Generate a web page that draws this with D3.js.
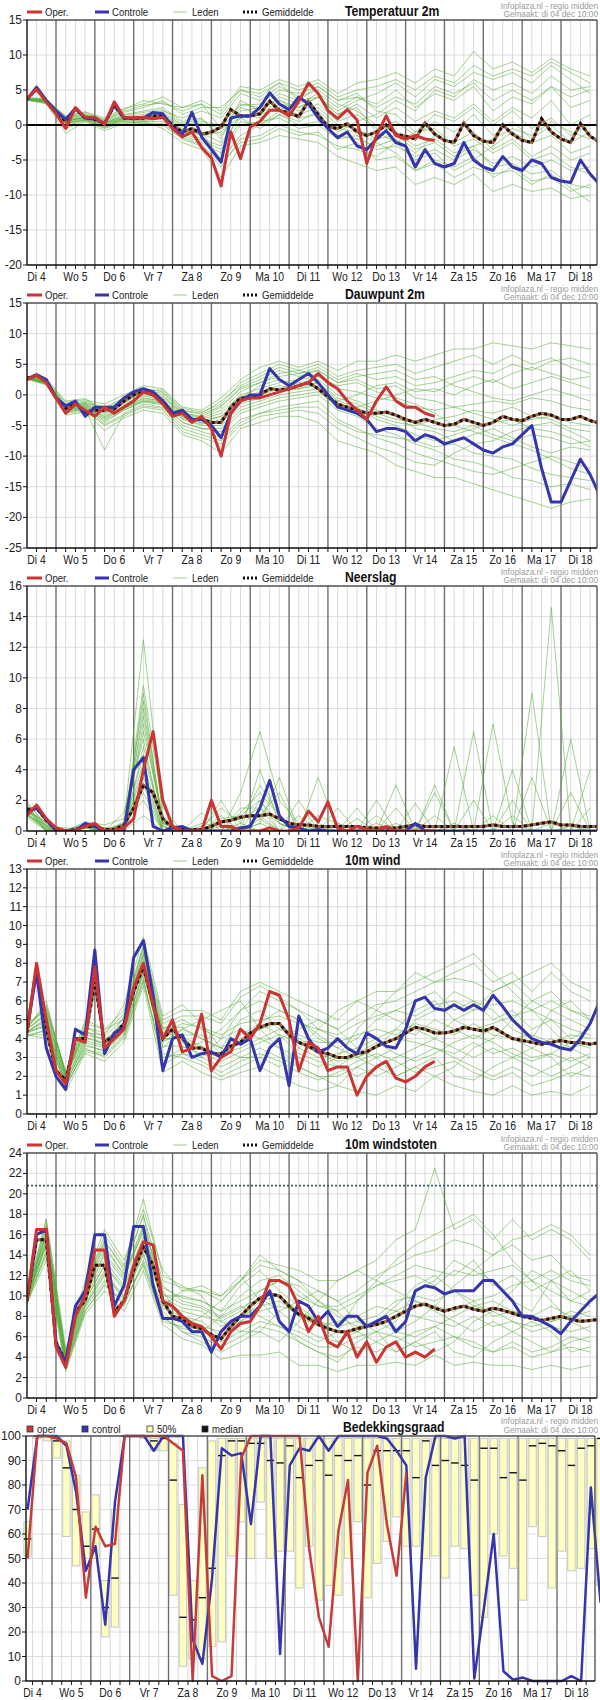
<!DOCTYPE html>
<html><head><meta charset="utf-8">
<script src="https://cdn.jsdelivr.net/npm/d3@7"></script>
<style>body{margin:0;background:#fff}svg{display:block;font-family:"Liberation Sans",Arial,sans-serif}</style>
</head><body>
<svg id="c" width="600" height="1700"></svg>
<script>
// ---------- labels ----------
const dayLabels = ["Di 4","Wo 5","Do 6","Vr 7","Za 8","Zo 9","Ma 10","Di 11","Wo 12","Do 13","Vr 14","Za 15","Zo 16","Ma 17","Di 18"];
const legendLabels = ["Oper.","Controle","Leden","Gemiddelde"];
const cloudLegendLabels = ["oper","control","50%","median"];
const sourceText = "Infoplaza.nl - regio midden";
const madeText = "Gemaakt: di 04 dec 10:00";
const panelTitles = ["Temperatuur 2m","Dauwpunt 2m","Neerslag","10m wind","10m windstoten","Bedekkingsgraad"];

// ---------- Temperatuur 2m (6-hourly from Di 4 06:00; members 12-hourly) ----------
const tempTicks = [15,10,5,0,-5,-10,-15,-20];
const tempOper = [3.8,5.1,3.3,1.6,-0.5,2.5,1.1,1.1,0.1,3.3,1.1,1.0,1.1,0.9,1.1,-0.5,-1.7,-1.0,-3.2,-4.7,-8.7,-1.0,-4.8,-0.3,0.5,2.1,2.1,1.3,3.4,6.0,4.5,2.1,0.9,2.2,0.7,-5.5,-1.5,1.3,-1.5,-2.0,-1.5,-2.0,-2.2];
const tempCtrl = [3.6,5.4,3.5,2.0,0.8,2.4,1.0,0.9,0.2,3.0,1.0,1.0,1.0,1.8,1.6,-0.3,-1.4,1.8,-1.7,-3.5,-5.3,1.0,1.3,1.3,2.5,4.6,3.0,2.2,4.0,3.0,1.0,-0.5,-1.8,-1.0,-3.0,-3.5,-2.0,-0.8,-2.5,-3.0,-6.0,-3.5,-5.5,-6.0,-5.5,-2.5,-5.0,-6.0,-6.5,-4.5,-6.0,-6.5,-5.0,-5.5,-7.5,-8.0,-8.2,-5.0,-7.0,-8.5];
const tempMean = [3.7,5.2,3.4,1.8,0.5,2.3,1.0,0.8,0.2,2.8,1.0,0.9,1.0,1.3,1.3,0.0,-1.0,-0.5,-1.3,-1.0,-0.3,2.2,1.3,1.3,1.6,3.4,2.1,1.7,1.2,3.4,1.5,-0.3,-0.5,0.2,-1.0,-1.5,-1.0,0.0,-1.3,-1.6,-2.0,0.3,-1.3,-2.2,-2.5,0.3,-1.5,-2.3,-2.5,0.0,-1.3,-2.2,-2.5,0.9,-1.0,-2.0,-2.5,0.2,-1.6,-2.5];
const tempMembers = [
 [3.8,3.6,1.2,1.8,0.8,2.2,3.5,3.0,2.5,3.5,2.0,5.5,5.0,6.5,5.5,6.5,4.5,6.0,6.5,7.5,6.0,8.0,7.0,10.5,8.0,9.0,7.5,9.5,8.0,7.0],
 [3.6,3.0,-1.2,0.5,-0.8,0.2,0.5,-0.5,-2.5,-3.5,-7.5,-3.0,-2.5,-1.5,-2.0,-2.5,-4.5,-5.5,-6.5,-6.0,-8.5,-7.5,-8.5,-7.0,-9.5,-8.5,-9.5,-9.0,-10.5,-10.0],
 [3.7,3.4,0.5,1.2,0.2,1.0,1.2,1.5,-0.5,-1.5,-1.0,2.0,2.5,3.5,2.0,3.0,0.5,1.5,-0.5,0.5,-1.5,0.5,-1.0,1.5,-1.5,0.5,-2.0,0.0,-2.5,-1.0],
 [3.9,3.8,1.0,1.5,0.5,1.5,2.0,2.5,0.5,1.0,-2.0,3.5,2.0,4.0,3.0,4.5,2.5,4.0,3.0,5.0,2.5,4.5,3.5,5.5,2.0,4.0,3.0,5.5,2.5,3.5],
 [3.5,3.2,0.0,0.8,-0.2,0.6,0.5,0.5,-1.5,-2.5,-4.0,0.0,0.5,1.0,-0.5,0.0,-2.0,-1.5,-3.5,-3.0,-4.5,-3.5,-5.0,-3.5,-5.5,-4.5,-6.0,-5.0,-6.5,-6.0],
 [3.7,3.5,0.8,1.0,0.4,1.2,1.5,2.0,1.0,2.0,1.0,4.5,3.5,5.5,4.0,5.0,3.0,2.0,0.0,-1.0,-3.0,-2.0,-4.0,-3.0,-6.0,-5.5,-7.0,-6.5,-8.5,-9.0],
 [3.6,3.3,0.3,0.9,0.0,0.8,0.8,1.0,-1.0,-1.0,-5.0,-1.5,0.0,2.0,1.0,1.5,-1.0,0.5,1.5,3.5,2.0,5.0,4.0,6.5,5.0,6.0,4.5,7.0,5.0,5.5],
 [3.8,3.7,0.9,1.4,0.6,1.8,2.5,3.5,1.5,2.5,2.5,5.0,4.5,6.0,3.5,4.0,1.5,2.5,-1.0,-2.5,-5.0,-4.0,-6.5,-5.0,-3.0,-1.0,-2.5,-1.5,-4.0,-3.0],
 [3.7,3.1,-0.5,0.6,-0.5,0.4,0.2,0.0,-2.0,-3.0,-6.0,-2.0,-1.5,0.0,-1.0,-1.5,-3.0,-3.5,-4.5,-2.5,-1.0,1.5,0.5,2.5,0.0,2.0,-0.5,1.0,-1.5,0.0],
 [3.6,3.5,0.6,1.1,0.3,1.1,1.0,1.8,0.0,0.5,0.0,3.0,2.5,4.5,3.5,5.5,3.5,4.5,2.0,1.5,-1.0,-0.5,-3.0,-2.0,-4.0,-2.5,-5.0,-4.0,-6.0,-7.0],
 [3.5,3.6,1.3,1.9,1.0,2.4,3.0,4.0,2.5,3.0,-0.5,1.0,-0.5,1.5,0.5,2.0,-0.5,-1.0,-2.5,-4.0,-6.5,-5.5,-7.5,-6.0,-7.0,-6.5,-8.5,-7.0,-9.0,-11.0],
 [3.8,3.4,0.2,0.7,-0.3,0.9,0.7,1.2,-0.8,-2.0,-3.0,1.5,1.0,3.0,2.5,4.0,2.0,3.5,4.5,6.0,4.0,6.5,5.5,7.5,6.5,7.5,6.0,8.5,6.5,4.5],
 [3.7,3.5,0.7,1.3,0.3,1.4,1.8,2.2,0.2,0.8,-1.5,2.5,1.5,3.5,2.5,4.0,1.5,3.0,1.0,2.5,0.5,2.0,1.0,3.0,0.5,2.5,1.0,3.5,0.0,1.5],
 [3.6,3.2,-0.2,0.7,-0.4,0.5,0.3,0.2,-1.8,-2.8,-5.5,-2.5,-2.0,-0.5,-1.5,-1.0,-3.5,-2.5,-5.0,-4.5,-6.5,-5.0,-6.0,-4.5,-7.5,-6.0,-8.0,-7.5,-9.5,-8.5],
 [3.8,3.6,1.1,1.6,0.7,2.0,2.8,3.2,2.0,3.0,1.5,5.0,4.0,6.0,5.0,6.0,4.0,5.0,5.5,6.5,5.0,7.0,6.0,8.5,7.0,8.0,7.0,9.0,7.5,6.0],
 [3.7,3.3,0.4,1.0,0.1,0.9,0.9,1.3,-0.7,-1.2,-2.5,1.0,1.5,2.5,1.5,2.5,0.0,-0.5,-2.0,-1.5,-3.5,-2.5,-4.5,-3.0,-2.0,-0.5,-1.5,0.5,-1.0,-2.0],
 [3.6,3.4,0.5,1.1,0.2,1.0,1.1,1.6,-0.2,0.2,-0.5,2.8,3.0,5.0,4.5,5.5,3.5,4.0,2.5,4.0,3.0,5.5,4.5,6.0,3.5,5.0,3.5,5.5,4.0,5.0],
 [3.7,3.3,0.3,0.8,-0.1,0.7,0.6,0.9,-1.2,-2.2,-3.5,0.5,0.0,1.5,0.0,0.5,-1.5,-2.0,-3.0,-2.0,-4.0,-1.5,-2.5,-1.0,-3.5,-2.0,-4.5,-3.0,-5.0,-4.0]
];

// ---------- Dauwpunt 2m ----------
const dewTicks = [15,10,5,0,-5,-10,-15,-20,-25];
const dewOper = [2.5,3.2,2.0,-0.5,-3.0,-1.5,-2.5,-3.5,-2.0,-3.0,-2.0,-1.0,0.5,0.0,-1.5,-3.5,-3.0,-4.5,-3.5,-5.5,-10.0,-3.0,-1.0,-0.5,-0.5,0.0,0.5,1.0,1.5,2.0,3.5,2.0,1.0,-1.0,-2.5,-4.0,-1.0,1.3,-1.0,-2.0,-2.0,-3.0,-3.5];
const dewCtrl = [2.5,3.3,2.5,-0.5,-1.8,-1.0,-3.5,-2.0,-2.0,-2.0,-0.5,0.5,1.0,0.5,-1.0,-3.0,-2.5,-4.0,-4.0,-5.0,-7.0,-3.0,-1.0,0.0,0.0,4.3,2.5,1.5,2.5,3.5,2.0,0.0,-2.0,-2.5,-3.0,-4.0,-6.0,-5.5,-5.5,-6.0,-7.5,-6.5,-7.0,-8.0,-7.5,-7.0,-8.0,-9.0,-9.5,-8.5,-8.0,-6.5,-5.0,-12.0,-17.5,-17.5,-14.0,-10.5,-13.0,-16.5];
const dewMean = [2.7,3.2,2.2,-0.5,-2.2,-1.3,-2.8,-2.5,-2.5,-2.3,-1.0,0.0,0.5,0.0,-1.0,-3.0,-3.0,-4.0,-4.0,-4.5,-4.5,-2.0,-0.5,-0.5,0.0,1.0,0.8,1.0,1.5,2.0,1.0,-0.3,-1.5,-2.0,-2.5,-3.0,-3.0,-2.8,-3.3,-4.0,-4.5,-4.0,-4.5,-5.0,-4.8,-4.0,-4.5,-5.0,-4.5,-3.5,-4.0,-4.2,-3.5,-3.0,-3.3,-4.0,-4.0,-3.5,-4.2,-4.6];
const dewMembers = [
 [3.0,2.5,-1.2,-0.8,-1.5,0.0,1.5,1.0,-2.0,-2.5,-0.5,2.5,4.5,5.5,4.5,5.5,4.0,5.5,5.5,6.5,5.5,6.5,7.5,7.5,8.5,8.0,7.5,8.5,8.0,7.5],
 [2.6,1.6,-3.3,-2.8,-5.8,-3.8,-2.5,-3.0,-6.5,-7.5,-9.5,-5.5,-4.5,-3.5,-3.5,-4.5,-7.5,-8.5,-9.5,-11.5,-12.5,-13.5,-13.5,-14.5,-15.5,-16.5,-17.5,-18.5,-17.5,-17.0],
 [2.8,2.0,-2.0,-1.6,-3.0,-1.5,0.0,-0.5,-3.0,-4.0,-3.0,0.0,1.0,2.0,2.5,3.0,1.0,0.5,-0.5,-1.0,-2.0,-2.5,-2.0,-1.5,-1.0,-1.5,-0.5,-1.0,-2.0,-2.5],
 [2.7,2.2,-2.5,-2.0,-4.5,-2.5,-1.0,-1.5,-4.5,-5.5,-6.0,-3.0,-2.0,-1.0,-0.5,0.0,-2.5,-3.5,-5.5,-6.5,-8.0,-9.0,-10.5,-11.0,-12.0,-13.5,-14.0,-15.0,-14.5,-15.5],
 [2.9,2.4,-1.5,-1.0,-2.0,-0.5,1.0,0.5,-2.5,-3.0,-1.0,1.5,3.0,4.5,3.5,4.5,2.5,3.5,2.5,3.0,1.5,2.0,3.0,4.0,3.5,5.0,4.0,5.5,6.0,5.0],
 [2.8,1.8,-2.8,-2.4,-9.0,-3.0,-1.5,-2.0,-5.0,-6.0,-7.0,-4.0,-3.0,-2.0,-1.5,-1.0,-4.0,-5.5,-7.0,-8.0,-9.5,-10.5,-11.5,-12.5,-13.0,-12.0,-11.0,-10.0,-11.0,-12.0],
 [2.7,2.1,-2.2,-1.7,-3.5,-2.0,-0.5,-1.0,-3.5,-4.5,-3.5,-1.0,0.0,1.0,2.0,2.5,0.0,-1.0,-2.5,-3.5,-5.5,-6.0,-7.5,-6.5,-5.5,-7.0,-8.5,-9.5,-8.5,-9.0],
 [3.0,2.3,-1.8,-1.3,-2.5,-1.0,0.5,0.0,-3.0,-3.5,-2.0,1.0,2.0,3.5,4.0,5.0,3.0,4.0,4.5,5.0,3.5,4.5,5.5,6.5,5.0,6.5,5.0,6.0,4.5,3.5],
 [2.6,1.9,-2.6,-2.2,-4.0,-2.2,-1.0,-1.3,-4.0,-5.0,-5.0,-2.0,-1.0,0.0,0.5,1.0,-1.5,-2.5,-3.5,-4.5,-5.0,-4.0,-3.5,-2.5,-3.0,-2.0,-3.5,-4.0,-5.5,-6.0],
 [2.9,2.6,-1.0,-0.6,-2.8,-1.2,0.8,0.8,-2.2,-2.8,-1.5,2.0,3.5,5.0,4.0,3.0,1.5,2.0,0.5,-0.5,-1.5,-3.0,-5.0,-6.0,-7.0,-8.0,-9.0,-10.5,-12.0,-13.0],
 [2.8,1.7,-3.0,-2.6,-5.0,-3.5,-2.0,-2.5,-6.0,-7.0,-8.0,-5.0,-3.5,-3.0,-2.5,-3.0,-5.5,-7.0,-8.5,-9.5,-11.0,-11.5,-9.5,-8.0,-7.5,-6.0,-5.0,-4.5,-6.0,-7.5],
 [2.7,2.0,-2.3,-1.9,-3.8,-2.2,-0.8,-1.2,-3.8,-4.8,-4.0,-0.5,1.5,2.5,1.5,2.0,-1.0,0.0,1.5,2.0,0.5,1.0,0.0,1.5,2.5,1.0,2.0,3.0,2.0,1.0],
 [2.8,2.1,-2.1,-1.5,-3.2,-1.8,-0.2,-0.8,-3.2,-4.2,-3.5,-0.5,0.5,1.5,1.0,2.0,-0.5,-1.5,-3.0,-4.0,-4.5,-5.5,-6.0,-5.0,-6.5,-7.5,-6.5,-7.0,-8.0,-7.5],
 [2.7,1.9,-2.4,-2.0,-4.2,-2.5,-1.2,-1.6,-4.5,-5.5,-5.5,-2.5,-1.5,-0.5,0.0,0.5,-2.0,-2.0,-1.0,0.0,1.0,0.5,2.0,3.0,2.0,3.5,4.5,3.5,2.5,3.0],
 [2.9,2.3,-1.7,-1.2,-2.2,-0.8,0.6,0.3,-2.6,-3.2,-1.8,1.2,2.5,4.0,3.0,4.0,2.0,2.5,1.0,1.5,-0.5,-1.0,-2.0,-3.0,-4.0,-5.0,-4.0,-3.5,-4.5,-5.0],
 [2.6,1.8,-2.7,-2.3,-4.8,-3.2,-1.8,-2.2,-5.5,-6.5,-7.5,-4.5,-3.0,-2.5,-2.0,-2.0,-4.5,-6.0,-6.5,-7.0,-7.5,-8.5,-8.0,-9.5,-10.0,-10.5,-12.0,-13.0,-13.5,-14.0],
 [2.8,2.2,-1.9,-1.4,-2.8,-1.3,0.3,-0.3,-2.8,-3.8,-2.5,0.5,2.0,3.0,3.5,4.0,2.0,3.0,3.5,4.0,2.5,3.0,1.5,0.5,-0.5,-1.0,0.0,1.0,0.0,-1.0],
 [2.7,2.0,-2.2,-1.8,-3.6,-2.0,-0.6,-1.0,-3.6,-4.6,-4.5,-1.5,-0.5,0.5,1.0,1.5,-1.0,-2.0,-4.0,-5.0,-6.5,-7.5,-6.5,-5.5,-4.5,-4.0,-5.5,-6.0,-7.0,-8.5]
];

// ---------- Neerslag ----------
const precTicks = [0,2,4,6,8,10,12,14,16];
const precOper = [1.0,1.7,0.8,0.2,0.0,0.0,0.3,0.5,0.0,0.0,0.2,0.8,4.0,6.5,2.0,0.3,0.0,0.0,0.0,2.0,0.3,0.3,0.0,0.0,0.0,0.2,0.0,0.0,0.2,1.3,0.6,1.9,0.2,0.0,0.3,0.1,0.0,0.3,0.0,0.0,0.0,0.0,0.0];
const precCtrl = [1.2,1.5,0.8,0.0,0.0,0.0,0.5,0.3,0.0,0.0,0.0,4.0,4.8,0.3,0.0,0.2,0.3,0.0,0.0,0.0,0.0,0.0,0.2,0.3,1.5,3.3,1.0,0.3,0.2,0.0,0.1,0.0,0.0,0.0,0.0,0.0,0.0,0.0,0.0,0.0,0.5,0.0,0.0,0.0,0.0,0.0,0.0,0.0,0.0,0.0,0.0,0.0,0.0,0.0,0.0,0.0,0.0,0.0,0.0,0.0];
const precMean = [1.4,1.5,0.7,0.1,0.0,0.1,0.3,0.3,0.1,0.1,0.4,1.5,3.0,2.5,0.8,0.2,0.1,0.1,0.1,0.3,0.6,0.7,0.9,1.0,1.0,1.1,0.8,0.5,0.4,0.4,0.3,0.3,0.3,0.3,0.3,0.2,0.2,0.2,0.2,0.3,0.4,0.3,0.3,0.3,0.3,0.3,0.3,0.3,0.4,0.3,0.3,0.3,0.4,0.5,0.6,0.4,0.4,0.3,0.3,0.3];
const precMembers = [
 [1.8,0.5,0.0,0.3,0.0,0.6,12.5,0.8,0.0,0.2,1.5,0.5,3.0,1.0,0.0,0.3,0.0,0.0,0.5,0.0,0.0,0.0,0.3,0.0,1.0,0.0,0.0,0.5,0.0,0.2],
 [1.2,0.2,0.0,0.0,0.2,0.3,9.5,1.5,0.0,0.0,0.0,2.5,6.5,2.0,0.5,0.0,0.0,0.8,0.0,0.0,0.2,0.0,0.0,0.0,0.0,0.0,0.0,0.0,0.3,0.0],
 [1.5,0.0,0.0,0.5,0.0,0.0,8.0,0.3,0.0,0.5,0.3,0.0,1.0,0.0,0.0,0.0,0.0,0.0,0.0,1.5,0.0,2.5,0.0,0.0,0.0,0.0,0.0,0.0,0.0,0.0],
 [1.0,0.4,0.0,0.0,0.0,1.2,6.0,0.0,0.3,0.0,0.0,0.0,0.5,3.5,0.0,1.0,0.5,0.0,0.0,0.0,0.0,0.0,0.0,0.0,7.0,0.5,0.0,0.0,0.0,0.0],
 [1.6,0.3,0.2,0.2,0.0,0.2,5.0,0.5,0.0,0.0,0.8,1.0,2.0,0.5,0.0,0.0,0.0,1.5,0.0,0.0,0.0,0.0,0.0,0.0,0.0,0.0,0.0,14.6,0.0,0.0],
 [0.9,0.0,0.0,0.0,0.0,0.0,4.0,0.0,0.0,0.0,0.0,0.3,0.0,0.0,2.0,0.0,0.0,0.0,2.0,0.0,0.0,0.0,0.0,6.5,0.0,0.0,0.0,0.0,0.0,0.0],
 [1.3,0.6,0.0,0.6,0.4,0.8,3.0,0.0,0.0,0.0,0.0,0.0,0.8,0.0,0.0,3.5,0.0,0.0,0.0,0.0,1.8,0.0,0.0,0.0,0.0,0.0,3.5,0.0,0.0,0.0],
 [1.4,0.1,0.0,0.0,0.0,0.0,7.0,0.5,0.0,0.0,2.0,0.0,0.0,0.0,0.0,0.0,1.5,0.0,0.0,0.0,0.0,0.0,5.5,0.0,0.0,0.0,0.0,0.0,6.0,0.0],
 [1.1,0.0,0.0,0.0,0.0,0.5,2.0,0.0,0.0,0.0,0.0,0.0,4.0,0.5,0.0,0.0,0.0,0.0,0.0,3.0,0.0,0.0,0.0,0.0,0.0,2.0,0.0,0.0,0.0,4.0],
 [1.7,0.0,0.0,0.0,0.0,0.0,1.0,0.0,0.0,1.2,0.0,0.0,0.0,0.0,0.0,0.0,0.0,0.0,0.0,0.0,0.0,3.0,0.0,0.0,0.0,0.0,9.0,0.0,0.0,0.0],
 [1.0,0.2,0.0,0.0,0.0,0.0,9.0,0.3,0.0,0.0,0.0,1.5,1.5,0.0,0.0,0.0,0.0,0.0,0.0,0.0,0.0,0.0,0.0,0.0,0.0,4.0,0.0,0.0,0.0,0.0],
 [1.9,0.3,0.0,0.2,0.0,0.0,4.5,0.0,0.0,0.0,0.0,0.0,0.0,0.0,0.0,0.0,0.0,0.0,0.0,0.0,0.0,0.0,0.0,0.0,0.0,0.0,0.0,0.0,0.0,0.0],
 [1.3,0.3,0.0,0.2,0.0,0.4,6.5,1.0,0.0,0.0,0.5,0.8,1.5,0.5,0.0,0.0,0.5,0.0,0.0,0.0,0.0,0.0,0.5,0.0,0.0,1.0,0.0,0.0,0.0,0.0],
 [1.5,0.4,0.0,0.0,0.0,0.5,8.5,0.5,0.0,0.0,0.0,1.2,2.5,1.0,0.0,0.0,0.0,0.0,0.0,0.5,0.0,0.0,0.0,2.0,0.0,0.0,0.0,0.0,0.0,0.0],
 [1.2,0.1,0.0,0.4,0.0,0.0,3.5,0.0,0.0,0.3,0.0,0.5,0.0,0.0,1.0,0.0,0.0,0.0,0.0,0.0,0.0,0.0,0.0,0.0,0.0,0.0,0.0,0.0,2.5,0.0],
 [1.6,0.2,0.0,0.0,0.2,0.0,5.5,0.3,0.0,0.0,1.0,0.0,1.0,2.5,0.0,0.0,0.0,0.0,1.0,0.0,0.0,0.0,0.0,0.0,0.0,0.0,0.0,0.0,0.0,0.0],
 [1.4,0.5,0.1,0.3,0.0,0.3,7.5,0.6,0.0,0.0,0.0,0.0,0.5,0.0,0.0,0.5,0.0,0.0,0.0,0.0,0.5,0.0,0.0,0.0,0.0,0.0,0.0,0.0,0.0,1.5],
 [1.1,0.0,0.0,0.0,0.0,0.2,2.5,0.0,0.0,0.0,0.3,0.0,2.0,0.0,0.0,0.0,0.0,0.0,0.0,0.0,0.0,1.0,0.0,0.0,0.0,0.0,0.0,0.0,0.0,0.0]
];

// ---------- 10m wind ----------
const windTicks = [0,1,2,3,4,5,6,7,8,9,10,11,12,13];
const windOper = [4.3,8.0,5.0,2.3,1.6,4.0,3.8,7.8,3.5,4.0,4.5,6.7,8.0,5.8,4.0,5.0,3.3,3.5,5.3,2.3,3.0,3.3,4.5,4.0,4.8,6.5,6.3,5.0,2.3,3.8,3.5,2.3,2.5,2.5,1.0,2.0,2.5,2.8,1.9,1.7,2.0,2.5,2.8];
const windCtrl = [4.5,7.5,3.5,2.0,1.3,4.5,4.2,8.7,3.2,4.3,4.6,8.3,9.2,6.3,2.3,4.0,4.2,3.0,3.2,3.3,3.0,4.0,3.7,4.0,2.3,3.5,4.0,1.5,5.2,4.0,3.3,3.5,4.0,3.5,3.2,4.3,4.0,3.6,3.5,4.5,6.0,6.2,5.6,5.5,5.8,5.5,5.8,5.5,6.3,5.7,5.0,4.5,4.0,3.8,3.7,3.5,3.4,4.0,4.8,6.0];
const windMean = [4.3,7.8,4.5,2.3,1.8,4.0,4.0,7.0,3.8,4.2,4.8,6.5,7.8,5.8,4.0,4.5,4.0,3.5,3.5,3.2,3.2,3.6,3.8,4.3,4.6,4.8,4.8,4.2,3.8,3.6,3.3,3.2,3.0,3.0,3.2,3.3,3.6,3.8,4.0,4.3,4.6,4.5,4.3,4.3,4.4,4.6,4.5,4.4,4.6,4.3,4.0,3.9,3.8,3.7,3.8,3.9,3.8,3.8,3.7,3.8];
const windMembers = [
 [4.5,6.0,2.0,5.0,4.5,5.5,9.0,5.0,5.5,5.5,5.0,6.5,7.0,6.5,6.0,5.5,5.0,6.0,6.5,6.5,7.5,7.0,7.5,8.0,7.0,7.5,6.5,7.5,6.5,6.0],
 [4.2,4.0,1.2,3.2,2.8,3.8,6.8,2.2,2.8,2.2,1.8,2.2,2.5,2.0,1.5,1.2,1.5,1.2,1.0,1.5,1.2,2.0,1.5,1.2,1.0,1.5,1.0,1.2,1.0,1.5],
 [4.4,5.0,1.8,4.0,3.8,4.8,7.8,4.0,4.0,3.5,3.0,4.0,4.5,4.8,3.5,3.0,3.2,3.5,4.0,4.5,4.2,5.0,4.5,4.0,4.5,4.0,3.5,4.0,3.5,3.8],
 [4.8,5.5,2.3,4.8,4.5,5.0,8.5,4.5,5.0,4.5,4.0,5.5,6.0,5.5,5.0,4.0,3.5,4.0,5.0,5.5,6.0,6.5,5.5,6.0,5.0,5.5,4.5,5.0,4.0,4.5],
 [4.1,4.5,1.4,3.5,3.0,4.0,7.0,3.0,3.2,3.0,2.5,3.0,3.5,3.0,2.5,2.0,2.0,2.5,2.0,2.5,3.0,3.5,3.0,2.5,2.0,2.5,2.0,2.5,3.0,2.5],
 [4.6,5.8,2.1,4.2,4.0,4.5,8.0,3.5,4.5,4.0,3.5,5.0,5.5,4.5,4.0,3.5,2.5,2.0,2.5,3.0,3.5,4.0,5.0,5.5,6.5,7.0,7.5,8.0,7.0,6.5],
 [4.3,4.8,1.6,3.8,3.5,4.5,7.5,4.5,3.8,3.0,4.0,4.5,4.0,3.5,3.0,2.5,3.0,4.5,5.5,6.5,7.0,7.5,8.0,8.5,7.5,6.5,5.5,4.5,3.5,3.0],
 [4.5,5.2,1.9,4.5,3.5,5.2,8.8,3.8,4.5,5.0,5.5,6.0,4.5,3.5,2.5,2.0,1.5,2.5,3.0,2.0,2.5,3.0,2.0,1.8,2.5,3.0,3.5,3.0,2.0,2.5],
 [4.2,4.2,1.5,3.4,3.2,4.2,7.2,2.8,3.5,3.8,4.5,5.5,6.5,6.0,5.5,4.5,4.0,3.0,2.5,2.0,2.5,2.0,2.5,3.5,4.0,5.0,6.0,5.5,5.0,4.5],
 [4.6,5.6,2.2,4.3,4.2,5.8,9.4,5.2,5.8,4.8,3.5,3.0,3.0,2.5,3.5,4.5,5.5,6.0,5.5,5.0,4.5,4.0,3.5,3.0,3.5,3.0,2.5,2.0,2.5,3.0],
 [4.4,4.6,1.7,3.6,3.4,4.3,7.6,3.2,3.0,2.6,2.0,2.5,3.0,4.0,4.5,5.0,4.5,3.5,3.0,3.5,5.0,5.5,6.5,6.0,5.5,4.5,4.0,5.5,6.0,5.0],
 [4.3,5.1,2.0,4.1,3.7,4.6,8.2,4.2,4.2,4.2,3.2,3.5,4.0,4.5,4.2,3.8,3.8,4.2,4.5,4.2,4.8,4.5,4.2,4.8,4.2,4.0,4.2,3.8,4.2,4.0],
 [4.5,5.3,2.0,4.4,3.9,4.9,8.4,4.3,4.8,4.6,4.2,4.8,5.0,5.2,4.8,4.5,4.2,4.8,5.2,5.5,5.2,5.8,6.0,5.5,5.8,6.0,5.5,6.0,5.5,5.2],
 [4.2,4.4,1.5,3.3,3.1,4.1,7.1,2.6,3.2,2.8,2.2,2.8,3.2,2.8,2.2,1.8,2.2,2.8,3.2,2.8,2.2,2.5,2.8,2.2,1.8,2.2,1.5,1.8,2.2,2.0],
 [4.6,5.7,2.2,4.6,4.3,5.3,8.9,4.8,5.2,5.2,4.8,6.2,6.8,6.2,5.5,5.0,4.5,5.2,5.8,6.0,6.5,7.0,7.2,7.0,6.5,7.0,6.0,6.5,5.5,5.0],
 [4.3,4.7,1.6,3.7,3.3,4.4,7.4,3.6,3.6,3.2,2.8,3.3,3.8,4.2,3.8,3.2,2.8,3.0,3.5,4.0,3.8,3.5,3.2,3.8,3.2,3.5,3.0,3.2,2.8,3.2],
 [4.4,4.9,1.8,3.9,3.6,4.7,7.9,3.9,4.1,3.6,3.0,3.8,4.8,5.5,5.0,4.2,3.5,3.0,3.5,4.5,5.5,6.0,5.0,4.5,4.8,5.2,5.5,5.0,4.5,4.2],
 [4.5,5.4,2.1,4.6,4.1,5.1,8.6,4.6,4.6,4.0,3.5,4.2,4.8,4.2,3.2,2.8,2.5,3.2,3.8,3.2,2.8,3.2,3.8,4.2,3.8,3.2,2.8,3.2,3.8,3.5]
];

// ---------- 10m windstoten ----------
const gustTicks = [0,2,4,6,8,10,12,14,16,18,20,22,24];
const gustRefLine = [20.8];
const gustOper = [9.5,16.5,16.5,5.0,3.0,8.0,10.0,14.5,14.5,8.0,9.5,13.0,15.3,15.0,9.5,9.0,8.0,7.3,7.0,6.0,4.8,6.5,7.3,7.5,9.0,11.5,11.5,11.0,9.0,6.5,8.0,5.5,5.0,6.5,4.0,5.5,3.5,5.0,5.5,4.0,4.5,4.0,4.8];
const gustCtrl = [9.5,16.0,16.5,5.3,3.5,9.0,10.5,16.0,16.0,9.0,11.0,16.8,16.8,11.0,7.8,7.8,7.5,6.5,6.5,4.5,6.5,7.5,8.0,8.0,9.0,10.5,7.5,6.5,9.5,9.0,7.5,8.5,7.0,8.0,8.0,7.0,7.5,8.0,6.5,7.5,10.5,11.0,10.8,10.2,10.5,10.5,10.5,11.5,11.5,10.5,9.5,8.0,8.0,7.5,7.0,6.3,7.5,8.5,9.5,10.3];
const gustMean = [9.5,15.5,15.5,5.5,3.5,8.5,9.5,13.0,13.0,8.5,9.5,12.5,14.8,13.0,9.5,8.0,7.8,7.0,6.8,6.2,5.8,7.0,8.0,9.0,9.8,10.2,10.0,9.0,8.2,7.8,7.2,6.8,6.5,6.5,6.8,7.0,7.2,7.5,8.0,8.5,9.0,9.2,8.8,8.5,8.8,9.0,8.7,8.5,8.8,8.6,8.3,8.0,7.8,7.6,7.8,8.0,7.7,7.5,7.6,7.7];
const gustMembers = [
 [10.0,17.5,4.5,11.5,16.5,13.5,18.5,12.5,10.5,10.5,9.5,11.5,13.5,13.0,12.5,11.5,11.5,12.5,13.5,15.5,16.5,22.5,16.5,17.5,15.5,17.5,15.5,16.5,15.5,13.5],
 [9.2,13.5,2.6,8.2,10.5,8.5,12.5,7.2,5.8,5.2,3.8,4.2,4.2,4.5,3.2,3.2,2.6,3.2,3.2,3.5,3.2,4.2,3.2,3.5,3.2,3.2,2.8,3.2,2.8,3.2],
 [9.6,15.5,3.5,9.5,13.0,10.5,15.0,9.5,8.0,7.5,6.0,7.5,9.5,10.0,8.5,7.5,7.0,7.5,8.0,9.5,10.0,9.5,10.5,9.0,9.5,8.5,8.0,9.0,8.0,8.5],
 [9.8,16.5,4.2,10.5,15.0,12.0,17.0,11.0,9.5,9.0,8.0,10.0,11.5,12.0,10.5,9.0,8.5,9.5,11.0,12.0,13.0,12.5,12.0,13.5,11.0,12.0,10.5,11.5,9.5,10.5],
 [9.3,14.5,3.0,8.8,11.5,9.0,13.5,8.0,6.5,6.0,5.0,6.0,7.0,6.5,5.5,4.5,4.0,5.0,4.5,5.5,6.5,7.0,6.0,5.5,4.5,5.5,4.5,5.0,6.0,5.5],
 [9.7,17.0,4.0,10.0,14.0,11.5,16.5,10.0,10.0,9.5,8.5,11.0,12.5,10.5,9.0,7.5,5.5,4.5,5.5,6.5,7.5,9.0,11.0,12.5,14.0,15.5,16.0,17.0,16.0,14.0],
 [9.5,15.0,3.2,9.0,12.0,10.0,14.5,10.5,7.5,6.5,8.0,9.0,8.0,7.0,6.5,5.5,6.5,9.5,11.5,13.5,15.0,16.0,17.0,18.0,16.0,13.5,11.5,9.5,7.5,6.5],
 [10.2,16.0,3.8,11.0,15.5,12.5,18.0,9.0,10.5,11.0,10.0,12.0,9.5,7.5,5.5,4.5,3.5,5.5,6.5,4.5,5.5,6.5,4.5,4.0,5.5,6.5,7.5,6.5,4.5,5.0],
 [9.4,14.0,2.8,8.5,11.0,9.5,13.0,7.5,7.0,8.0,9.5,11.5,14.0,12.5,11.5,9.5,8.5,6.5,5.5,4.5,5.5,4.5,5.5,7.5,8.5,10.5,12.5,11.5,10.5,9.5],
 [9.9,17.5,4.8,10.8,16.0,13.0,19.5,12.0,11.0,10.0,7.5,6.5,6.5,5.5,7.5,9.5,11.5,12.5,11.5,10.5,9.5,8.5,7.5,6.5,7.5,6.5,5.5,4.5,5.5,6.0],
 [9.6,15.2,3.4,9.2,12.5,9.8,14.0,8.5,6.5,5.5,4.5,5.5,6.5,8.5,9.5,10.5,9.5,7.5,6.5,7.5,10.5,11.5,13.5,12.5,11.5,9.5,8.5,11.5,12.5,10.5],
 [9.5,16.2,3.6,9.8,13.5,11.0,15.8,9.8,8.8,8.5,7.0,8.0,9.0,9.5,8.0,7.0,7.5,8.0,9.0,8.5,9.5,9.0,8.5,9.5,8.0,8.5,8.0,7.5,8.0,7.5],
 [9.6,15.8,3.9,10.2,14.2,11.8,16.8,10.8,9.8,9.5,8.5,9.5,10.5,11.5,10.0,9.0,9.0,10.0,11.0,11.5,12.0,11.0,12.5,12.0,12.5,13.0,11.5,12.5,11.5,11.0],
 [9.3,14.2,3.0,8.5,11.2,9.2,13.2,7.8,6.8,6.5,5.5,6.5,7.5,7.0,6.0,5.0,5.0,6.0,6.5,6.0,5.0,5.5,6.0,5.0,4.5,5.0,4.0,4.5,5.0,4.5],
 [9.8,16.8,4.3,10.6,15.3,12.8,17.8,11.5,10.8,10.5,10.0,11.5,13.0,12.5,11.5,10.5,9.5,10.5,12.0,13.0,14.0,14.5,15.5,15.0,14.0,15.0,13.5,14.0,12.0,11.5],
 [9.5,15.0,3.3,9.0,12.2,9.6,14.2,8.8,8.0,7.0,6.5,7.5,8.5,9.0,8.5,7.5,6.5,6.5,7.5,8.5,8.0,7.5,7.0,8.0,7.0,7.5,6.5,7.0,6.5,7.0],
 [9.6,15.4,3.7,9.6,13.0,10.8,15.2,9.2,8.5,8.0,7.5,8.5,10.5,11.5,11.0,9.5,8.0,7.0,7.5,9.0,11.0,12.0,10.5,9.5,10.0,11.0,11.5,10.5,9.5,9.0],
 [9.7,16.2,4.1,10.4,14.6,12.2,16.2,10.2,9.2,8.8,7.8,8.8,9.8,8.5,7.0,6.0,5.5,6.5,7.5,6.5,6.0,7.0,8.0,9.0,8.5,7.5,7.0,7.5,8.5,8.0]
];

// ---------- Bedekkingsgraad (6-hourly slots from Di 4 06:00) ----------
const cloudTicks = [0,10,20,30,40,50,60,70,80,90,100];
const cloudLow  = [51,99,98,91,59,47,50,50,18,22,100,100,99,94,94,35,6,9,9,14,16,51,65,50,73,50,53,53,38,55,33,39,35,50,65,34,48,57,67,55,55,50,51,42,55,54,35,26,60,51,46,33,63,59,38,53,45,46,54,39];
const cloudHigh = [65,100,100,99,98,84,69,76,41,70,100,100,100,99,100,97,72,41,87,98,99,99,99,99,99,99,99,99,99,99,99,99,99,99,99,99,99,99,99,99,99,99,99,99,99,99,99,99,99,99,99,99,99,99,99,99,99,99,99,99];
const cloudMed  = [58,100,100,98,87,70,55,62,30,42,100,100,100,98,99,82,26,25,34,46,92,98,98,97,97,90,89,96,83,88,90,84,92,90,92,80,94,94,94,94,83,98,88,90,89,88,82,95,95,83,85,82,96,97,96,94,88,95,96,99];
const cloudOper = [50,100,100,99,97,83,34,63,55,56,100,100,100,100,100,97,94,0,84,2,0,2,91,100,100,100,100,100,100,54,26,14,61,82,0,85,96,64,43,85];
const cloudCtrl = [70,100,100,100,96,77,45,55,23,73,100,100,100,94,100,100,100,17,7,42,95,92,93,64,100,100,11,88,95,94,100,94,100,100,100,100,100,99,94,88,5,83,100,100,99,100,1,30,60,4,0.5,1.4,0,0,0,0,2,0,79,32];

// ================= drawing =================
const svg = d3.select("#c");
const defs = svg.append("defs");
const SX = 0.87;            // horizontal squeeze of the original lettering
const RED = "#cc3333", BLUE = "#3535ad", GREEN = "#58ad3a";
const PH = 245;

function txt(g, x, y, s, o = {}) {
  return g.append("text")
    .attr("transform", `translate(${x},${y}) scale(${o.sx ?? SX},1)`)
    .attr("text-anchor", o.anchor || "start")
    .attr("font-size", o.size || 11)
    .attr("font-weight", o.bold ? "bold" : null)
    .attr("fill", o.fill || "#222")
    .text(s);
}

const t6 = i => 6 + 6 * i;
const t12 = j => 6 + 12 * j;
const hours = d3.range(6, 361, 6);

function header(g, top, title) {
  txt(g, 345, top - 4, title, {size: 14, bold: true, fill: "#111"});
  txt(g, 598, top - 11.5, sourceText, {size: 9.5, anchor: "end", fill: "#9a9a9a"});
  txt(g, 598, top - 3, madeText, {size: 9.5, anchor: "end", fill: "#9a9a9a"});
}

function xAxisCommon(g, x, left, right, top, bot) {
  const hs = hours.filter(t => x(t) > left + 0.5 && x(t) < right - 0.5);
  g.selectAll(null).data(hs.filter(t => t % 24 !== 0)).join("line")
    .attr("x1", d => x(d)).attr("x2", d => x(d)).attr("y1", top).attr("y2", bot)
    .attr("stroke", "#dadada").attr("stroke-width", 1);
  g.selectAll(null).data(hs.filter(t => t % 24 === 0)).join("line")
    .attr("x1", d => x(d)).attr("x2", d => x(d)).attr("y1", top).attr("y2", bot)
    .attr("stroke", "#6f6f6f").attr("stroke-width", 1.4);
  return hs;
}

function axesFrame(g, x, y, ticks, left, right, top, bot, hs) {
  g.append("line").attr("x1", left).attr("x2", right).attr("y1", top).attr("y2", top).attr("stroke", "#555").attr("stroke-width", 1.4);
  g.append("line").attr("x1", right).attr("x2", right).attr("y1", top).attr("y2", bot).attr("stroke", "#555").attr("stroke-width", 1.4);
  g.append("line").attr("x1", left).attr("x2", left).attr("y1", top).attr("y2", bot).attr("stroke", "#111").attr("stroke-width", 1.4);
  g.append("line").attr("x1", left).attr("x2", right).attr("y1", bot).attr("y2", bot).attr("stroke", "#111").attr("stroke-width", 1.4);
  ticks.forEach(v => {
    g.append("line").attr("x1", left - 4).attr("x2", left).attr("y1", y(v)).attr("y2", y(v)).attr("stroke", "#111");
    txt(g, left - 5, y(v) + 4, String(v), {size: 12, anchor: "end", sx: 1});
  });
  hs.forEach(t => g.append("line").attr("x1", x(t)).attr("x2", x(t)).attr("y1", bot).attr("y2", bot + 4).attr("stroke", "#111"));
  dayLabels.forEach((lab, k) => {
    const xx = x(12 + 24 * k);
    if (xx < right) txt(g, xx, bot + 16, lab, {size: 12, anchor: "middle"});
  });
}

const panels = [
  {top: 20,   domain: [-20, 15], ticks: tempTicks, oper: tempOper, ctrl: tempCtrl, mean: tempMean, members: tempMembers, zero: true},
  {top: 303,  domain: [-25, 15], ticks: dewTicks,  oper: dewOper,  ctrl: dewCtrl,  mean: dewMean,  members: dewMembers},
  {top: 586,  domain: [0, 16],   ticks: precTicks, oper: precOper, ctrl: precCtrl, mean: precMean, members: precMembers},
  {top: 869,  domain: [0, 13],   ticks: windTicks, oper: windOper, ctrl: windCtrl, mean: windMean, members: windMembers},
  {top: 1153, domain: [0, 24],   ticks: gustTicks, oper: gustOper, ctrl: gustCtrl, mean: gustMean, members: gustMembers, ref: gustRefLine}
];

panels.forEach((p, idx) => {
  const left = 27, right = 597, top = p.top, bot = top + PH;
  const x = d3.scaleLinear().domain([24, 336]).range([56, 561]);
  const y = d3.scaleLinear().domain(p.domain).range([bot, top]);
  const g = svg.append("g");
  const cid = "clip" + idx;
  defs.append("clipPath").attr("id", cid).append("rect")
    .attr("x", left).attr("y", top).attr("width", right - left).attr("height", PH);

  g.selectAll(null).data(p.ticks).join("line")
    .attr("x1", left).attr("x2", right).attr("y1", d => y(d)).attr("y2", d => y(d))
    .attr("stroke", "#dedede");
  const hs = xAxisCommon(g, x, left, right, top, bot);

  const cg = g.append("g").attr("clip-path", `url(#${cid})`);
  const lineM = d3.line().x((d, j) => x(t12(j))).y(d => y(d));
  const line6 = d3.line().x((d, i) => x(t6(i))).y(d => y(d));

  cg.selectAll(null).data(p.members).join("path")
    .attr("d", lineM).attr("fill", "none")
    .attr("stroke", GREEN).attr("stroke-opacity", 0.55).attr("stroke-width", 1);

  if (p.zero) cg.append("line").attr("x1", left).attr("x2", right).attr("y1", y(0)).attr("y2", y(0)).attr("stroke", "#000").attr("stroke-width", 2);
  if (p.ref) p.ref.forEach(v => cg.append("line").attr("x1", left).attr("x2", right).attr("y1", y(v)).attr("y2", y(v))
      .attr("stroke", "#2e6464").attr("stroke-width", 1.6).attr("stroke-dasharray", "2,2"));

  cg.append("path").attr("d", line6(p.mean)).attr("fill", "none").attr("stroke", "#a8643c").attr("stroke-width", 3);
  cg.append("path").attr("d", line6(p.mean)).attr("fill", "none").attr("stroke", "#111").attr("stroke-width", 3).attr("stroke-dasharray", "3,3");
  cg.append("path").attr("d", line6(p.ctrl)).attr("fill", "none").attr("stroke", BLUE).attr("stroke-width", 3).attr("stroke-linejoin", "round");
  cg.append("path").attr("d", line6(p.oper)).attr("fill", "none").attr("stroke", RED).attr("stroke-width", 3).attr("stroke-linejoin", "round");

  axesFrame(g, x, y, p.ticks, left, right, top, bot, hs);

  const ly = top - 8, ty = top - 4;
  g.append("line").attr("x1", 27).attr("x2", 42).attr("y1", ly).attr("y2", ly).attr("stroke", RED).attr("stroke-width", 3);
  txt(g, 45, ty, legendLabels[0]);
  g.append("line").attr("x1", 95).attr("x2", 109).attr("y1", ly).attr("y2", ly).attr("stroke", BLUE).attr("stroke-width", 3);
  txt(g, 112, ty, legendLabels[1]);
  g.append("line").attr("x1", 173).attr("x2", 187).attr("y1", ly).attr("y2", ly).attr("stroke", "#9ccf88").attr("stroke-width", 1);
  txt(g, 192, ty, legendLabels[2]);
  g.append("line").attr("x1", 243).attr("x2", 257).attr("y1", ly).attr("y2", ly).attr("stroke", "#111").attr("stroke-width", 3).attr("stroke-dasharray", "2,2");
  txt(g, 262, ty, legendLabels[3]);
  header(g, top, panelTitles[idx]);
});

// ---------- cloud panel ----------
(function () {
  const left = 26, right = 595, top = 1436, bot = top + PH;
  const x = d3.scaleLinear().domain([24, 336]).range([52, 557]);
  const y = d3.scaleLinear().domain([0, 100]).range([bot, top]);
  const g = svg.append("g");
  g.selectAll(null).data(cloudTicks).join("line")
    .attr("x1", left).attr("x2", right).attr("y1", d => y(d)).attr("y2", d => y(d)).attr("stroke", "#dedede");
  const hs = xAxisCommon(g, x, left, right, top, bot);

  const bw = x(30) - x(24) - 2.3;
  const bx = i => x(t6(i)) + 1;
  const slots = d3.range(cloudLow.length);
  g.selectAll(null).data(slots.filter(i => cloudHigh[i] > cloudLow[i])).join("rect")
    .attr("x", i => bx(i)).attr("width", bw)
    .attr("y", i => y(cloudHigh[i])).attr("height", i => y(cloudLow[i]) - y(cloudHigh[i]))
    .attr("fill", "#ffffc0").attr("stroke", "#c6c6c6").attr("stroke-width", 1);
  g.selectAll(null).data(slots).join("line")
    .attr("x1", i => bx(i)).attr("x2", i => bx(i) + bw)
    .attr("y1", i => y(cloudMed[i])).attr("y2", i => y(cloudMed[i]))
    .attr("stroke", "#111").attr("stroke-width", 1.4);

  const lc = d3.line().x((d, i) => bx(i) + bw / 2).y(d => y(d));
  g.append("path").attr("d", lc(cloudCtrl)).attr("fill", "none").attr("stroke", BLUE).attr("stroke-width", 2.5).attr("stroke-linejoin", "round");
  g.append("path").attr("d", lc(cloudOper)).attr("fill", "none").attr("stroke", "#c43c3c").attr("stroke-width", 2.5).attr("stroke-linejoin", "round");

  axesFrame(g, x, y, cloudTicks, left, right, top, bot, hs);

  const sq = [[27, "#c43c3c"], [82, "#3535ad"], [147, "#ffffb0"], [202, "#111"]];
  sq.forEach(([sx, col], k) => {
    g.append("rect").attr("x", sx).attr("y", 1426).attr("width", 6).attr("height", 6)
      .attr("fill", col).attr("stroke", "#333").attr("stroke-width", 0.8);
    txt(g, sx + 10, 1433, cloudLegendLabels[k]);
  });
  txt(g, 343, 1432, panelTitles[5], {size: 14, bold: true, fill: "#111"});
  txt(g, 598, top - 12, sourceText, {size: 9.5, anchor: "end", fill: "#9a9a9a"});
  txt(g, 598, top - 3, madeText, {size: 9.5, anchor: "end", fill: "#9a9a9a"});
})();
</script>
</body></html>
